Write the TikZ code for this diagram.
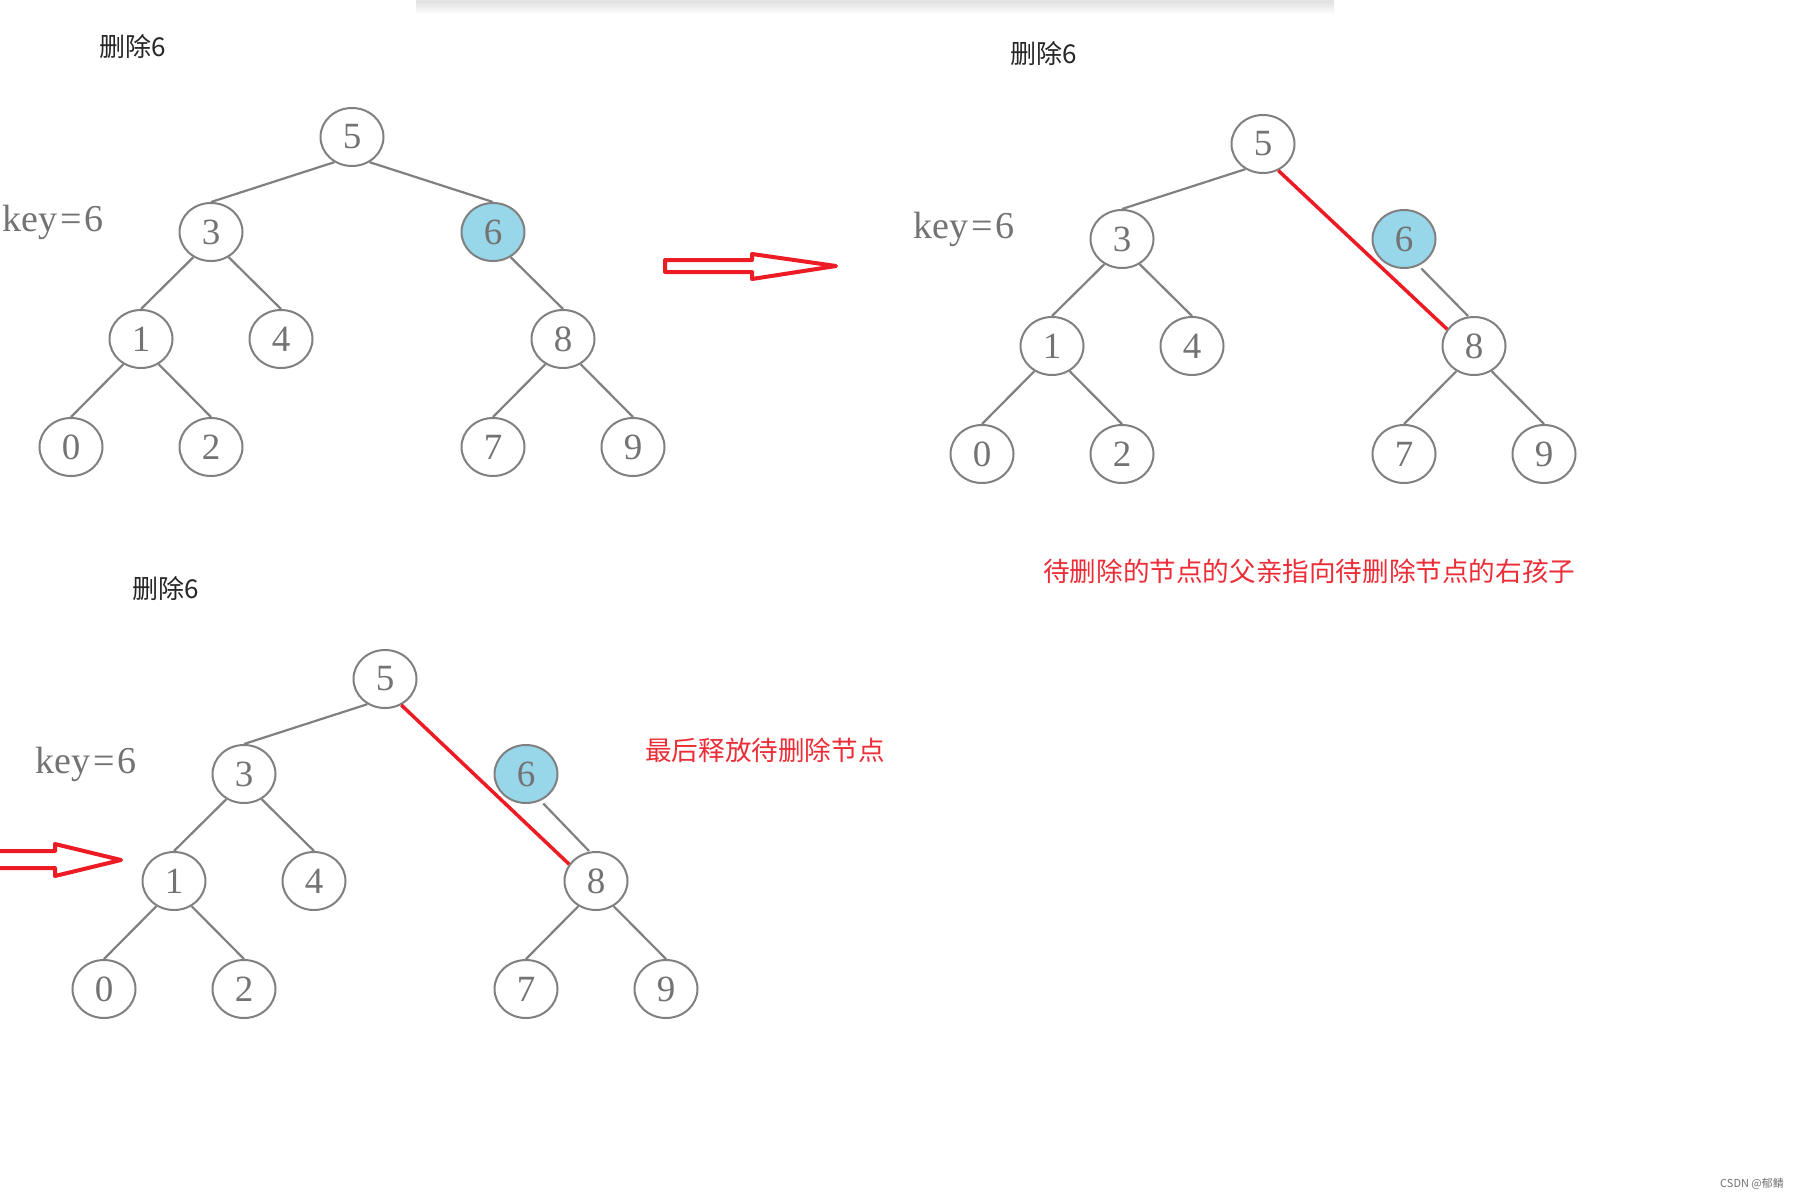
\documentclass[tikz,border=0pt]{standalone}
\usepackage{fontspec}
\setmainfont{Liberation Serif}
\newfontfamily\cjk{Noto Sans CJK SC}
\usetikzlibrary{shapes.geometric}
\definecolor{nodegray}{RGB}{128,128,128}
\definecolor{txtgray}{RGB}{115,115,115}
\definecolor{hlblue}{RGB}{152,214,234}
\definecolor{mred}{RGB}{237,28,36}
\definecolor{tred}{RGB}{236,45,55}
\tikzset{
  tnode/.style={ellipse, draw=nodegray, line width=2pt, fill=white,
    minimum width=63pt, minimum height=58pt, inner sep=0pt,
    text=txtgray, font=\fontsize{37}{37}\selectfont},
  hl/.style={fill=hlblue},
  tedge/.style={draw=nodegray, line width=2.2pt},
  redline/.style={draw=mred, line width=3.5pt},
  bigarrow/.style={draw=mred, line width=4pt, fill=white, line join=round},
  keylbl/.style={text=txtgray, font=\fontsize{38}{38}\selectfont, inner sep=0pt, anchor=base west},
  titlelbl/.style={text=black!85, font=\cjk\fontsize{26}{26}\selectfont, inner sep=0pt},
  notelbl/.style={text=tred, font=\cjk\fontsize{26.6}{27}\selectfont, inner sep=0pt, anchor=west},
}
\newcommand\bintree[1]{%
  \node[titlelbl] (#1title) at (133,47) {删除6};
  \node[keylbl] (#1key) at (2,231) {key\kern3pt=\kern3pt6};
  \node[tnode] (#1n5) at (352,137) {5};
  \node[tnode] (#1n3) at (211,232) {3};
  \node[tnode,hl] (#1n6) at (493,232) {6};
  \node[tnode] (#1n1) at (141,339) {1};
  \node[tnode] (#1n4) at (281,339) {4};
  \node[tnode] (#1n8) at (563,339) {8};
  \node[tnode] (#1n0) at (71,447) {0};
  \node[tnode] (#1n2) at (211,447) {2};
  \node[tnode] (#1n7) at (493,447) {7};
  \node[tnode] (#1n9) at (633,447) {9};
  \draw[tedge] (#1n5.235) -- (#1n3.north);
  \draw[tedge] (#1n3.235) -- (#1n1.north);
  \draw[tedge] (#1n3.305) -- (#1n4.north);
  \draw[tedge] (#1n1.235) -- (#1n0.north);
  \draw[tedge] (#1n1.305) -- (#1n2.north);
  \draw[tedge] (#1n8.235) -- (#1n7.north);
  \draw[tedge] (#1n8.305) -- (#1n9.north);
}
\begin{document}
\begin{tikzpicture}[x=1pt,y=-1pt]
  \useasboundingbox[fill=white] (0,0) rectangle (1803,1201);
  % top card shadow
  \shade[top color=black!13, bottom color=white] (416,0) rectangle (1334,14);
  \fill[black!10] (416,0) rectangle (1334,1.5);
  % tree 1
  \begin{scope}
    \bintree{a}
    \draw[tedge] (an5.305) -- (an6.north);
    \draw[tedge] (an6.305) -- (an8.north);
  \end{scope}
  % tree 2
  \begin{scope}[shift={(911,7)}]
    \bintree{b}
    \draw[tedge] ([shift={(2,3)}]bn6.300) -- ([xshift=-6]bn8.north);
    \draw[redline] (bn5.300) -- (bn8.148);
  \end{scope}
  % tree 3
  \begin{scope}[shift={(33,542)}]
    \bintree{c}
    \draw[tedge] ([shift={(2,3)}]cn6.300) -- ([xshift=-7]cn8.north);
    \draw[redline] (cn5.302) -- (cn8.148);
  \end{scope}
  % big arrows
  \draw[bigarrow] (665,260) -- (752,260) -- (752,254) -- (836,266) -- (752,279) -- (752,272) -- (665,272) -- cycle;
  \draw[bigarrow] (-4,851) -- (55,851) -- (55,844) -- (121,860) -- (55,876) -- (55,868) -- (-4,868);
  % notes
  \node[notelbl] (note1) at (1043,571) {待删除的节点的父亲指向待删除节点的右孩子};
  \node[notelbl] (note2) at (645,750) {最后释放待删除节点};
  \node[anchor=west, inner sep=0pt, text=black!55, font=\cjk\fontsize{11}{11}\selectfont] (wm) at (1720,1184) {CSDN @郁鲭};
\end{tikzpicture}
\end{document}
